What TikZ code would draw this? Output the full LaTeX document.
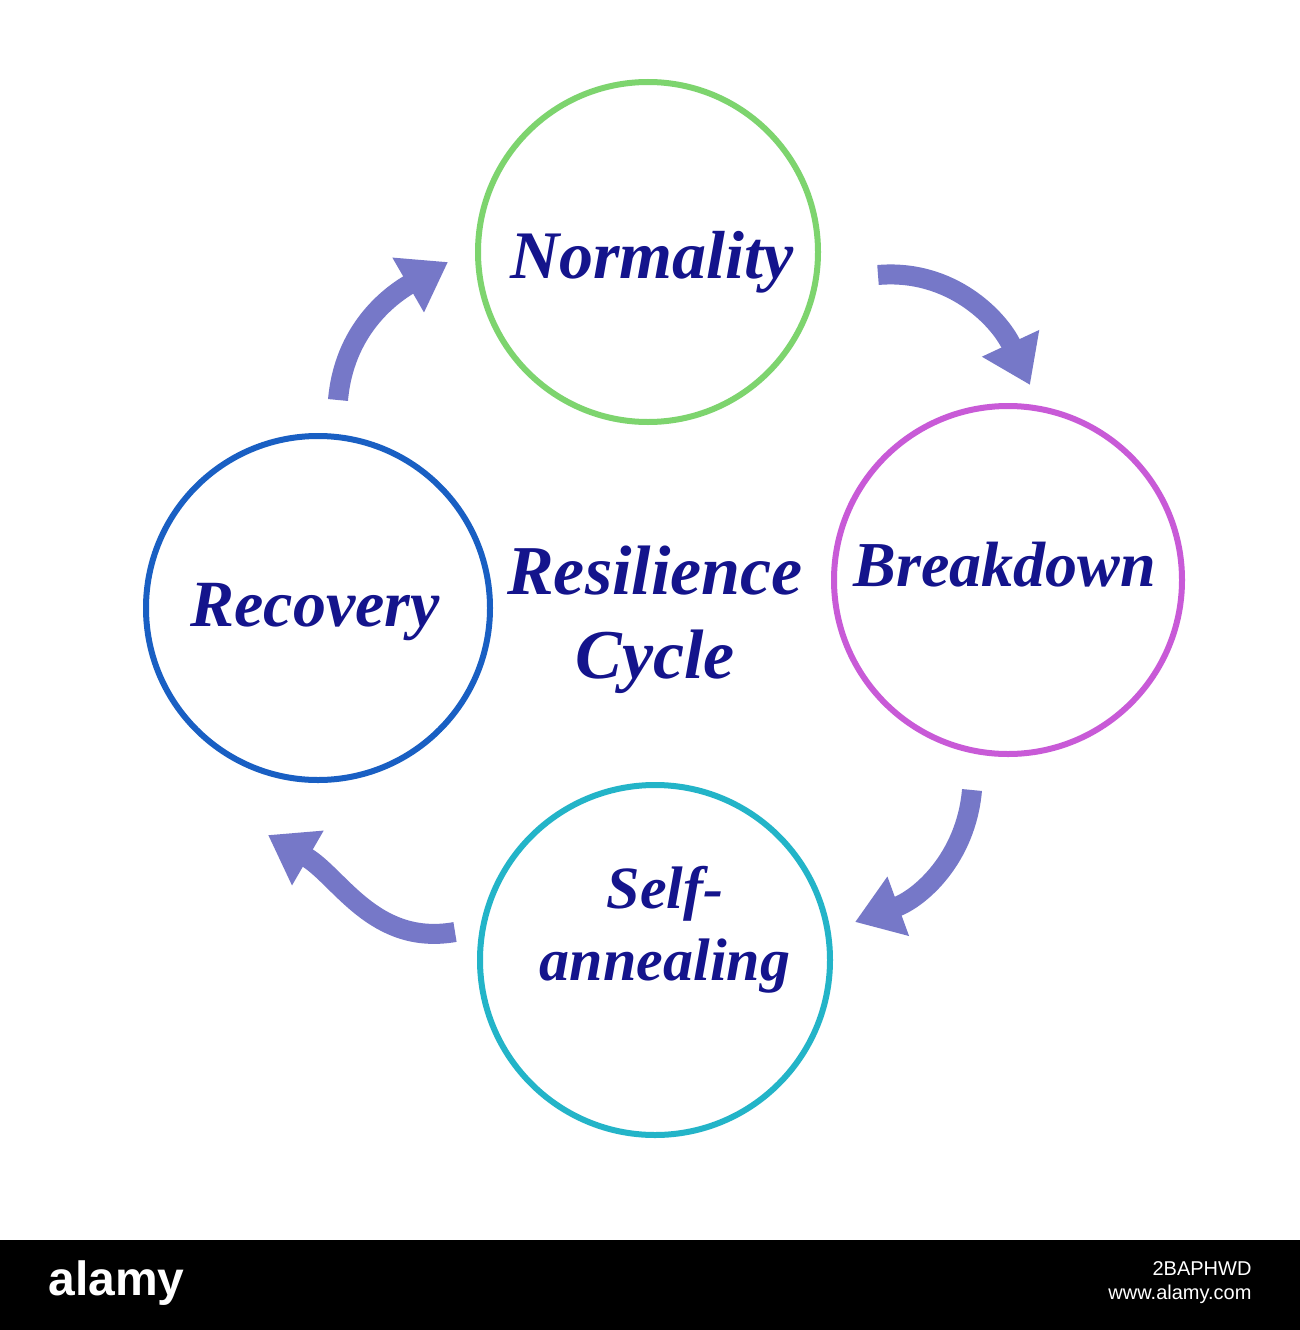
\documentclass[tikz,border=0pt]{standalone}
\usepackage{fontspec}
\setmainfont{Liberation Serif}
\setsansfont{Liberation Sans}
\usetikzlibrary{arrows.meta}
\definecolor{cgreen}{RGB}{125,212,110}
\definecolor{cmag}{RGB}{200,90,215}
\definecolor{cteal}{RGB}{35,180,200}
\definecolor{cblue}{RGB}{25,95,195}
\definecolor{ctext}{RGB}{20,20,140}
\definecolor{carr}{RGB}{118,120,200}
\tikzset{
  ring/.style={circle,line width=6pt,minimum size=340pt,inner sep=0pt},
  lbl/.style={font=\fontsize{68}{70}\selectfont\itshape\bfseries,text=ctext,align=center},
  arr/.style={draw=carr,line width=20pt,-{Triangle[width=60pt,length=46pt]}}
}
\begin{document}
\begin{tikzpicture}[x=1pt,y=-1pt]
\useasboundingbox[fill=white] (0,0) rectangle (1300,1330);
\node[ring,draw=cgreen] (norm) at (648,252) {};
\node[ring,draw=cmag,minimum size=348pt] (brk) at (1008,580) {};
\node[ring,draw=cteal,minimum size=350pt] (self) at (655,960) {};
\node[ring,draw=cblue,minimum size=344pt] (rec) at (318,608) {};
\node[lbl] (tn) at (652,262) {Normality};
\node[lbl,font=\fontsize{64}{66}\selectfont\itshape\bfseries] (tb) at (1005,565) {Breakdown};
\node[lbl,font=\fontsize{60}{72}\selectfont\itshape\bfseries] (ts) at (665,930) {Self-\\annealing};
\node[lbl,font=\fontsize{66}{66}\selectfont\itshape\bfseries] (tr) at (315,612) {Recovery};
\node[lbl,font=\fontsize{70}{84}\selectfont\itshape\bfseries] (tc) at (655,620) {Resilience\\Cycle};
\coordinate (a1s) at (338,400); \coordinate (a1e) at (448,262);
\coordinate (a2s) at (878,275); \coordinate (a2e) at (1030,385);
\coordinate (a3s) at (972,790); \coordinate (a3e) at (855,922);
\coordinate (a4s) at (455,932); \coordinate (a4e) at (268,835);
\draw[arr] (a1s) to[out=85,in=210] (a1e);
\draw[arr] (a2s) to[out=5,in=115] (a2e);
\draw[arr] (a3s) to[out=265,in=20] (a3e);
\draw[arr] (a4s) to[out=190,in=330] (a4e);
\fill[black] (0,1240) rectangle (1300,1330);
\node[font=\sffamily\bfseries\fontsize{48}{50}\selectfont,text=white,anchor=west] (al) at (45,1283) {alamy};
\node[font=\sffamily\fontsize{20}{24}\selectfont,text=white,anchor=east,align=right] (id) at (1255,1283) {2BAPHWD\\www.alamy.com};
\end{tikzpicture}
\end{document}
